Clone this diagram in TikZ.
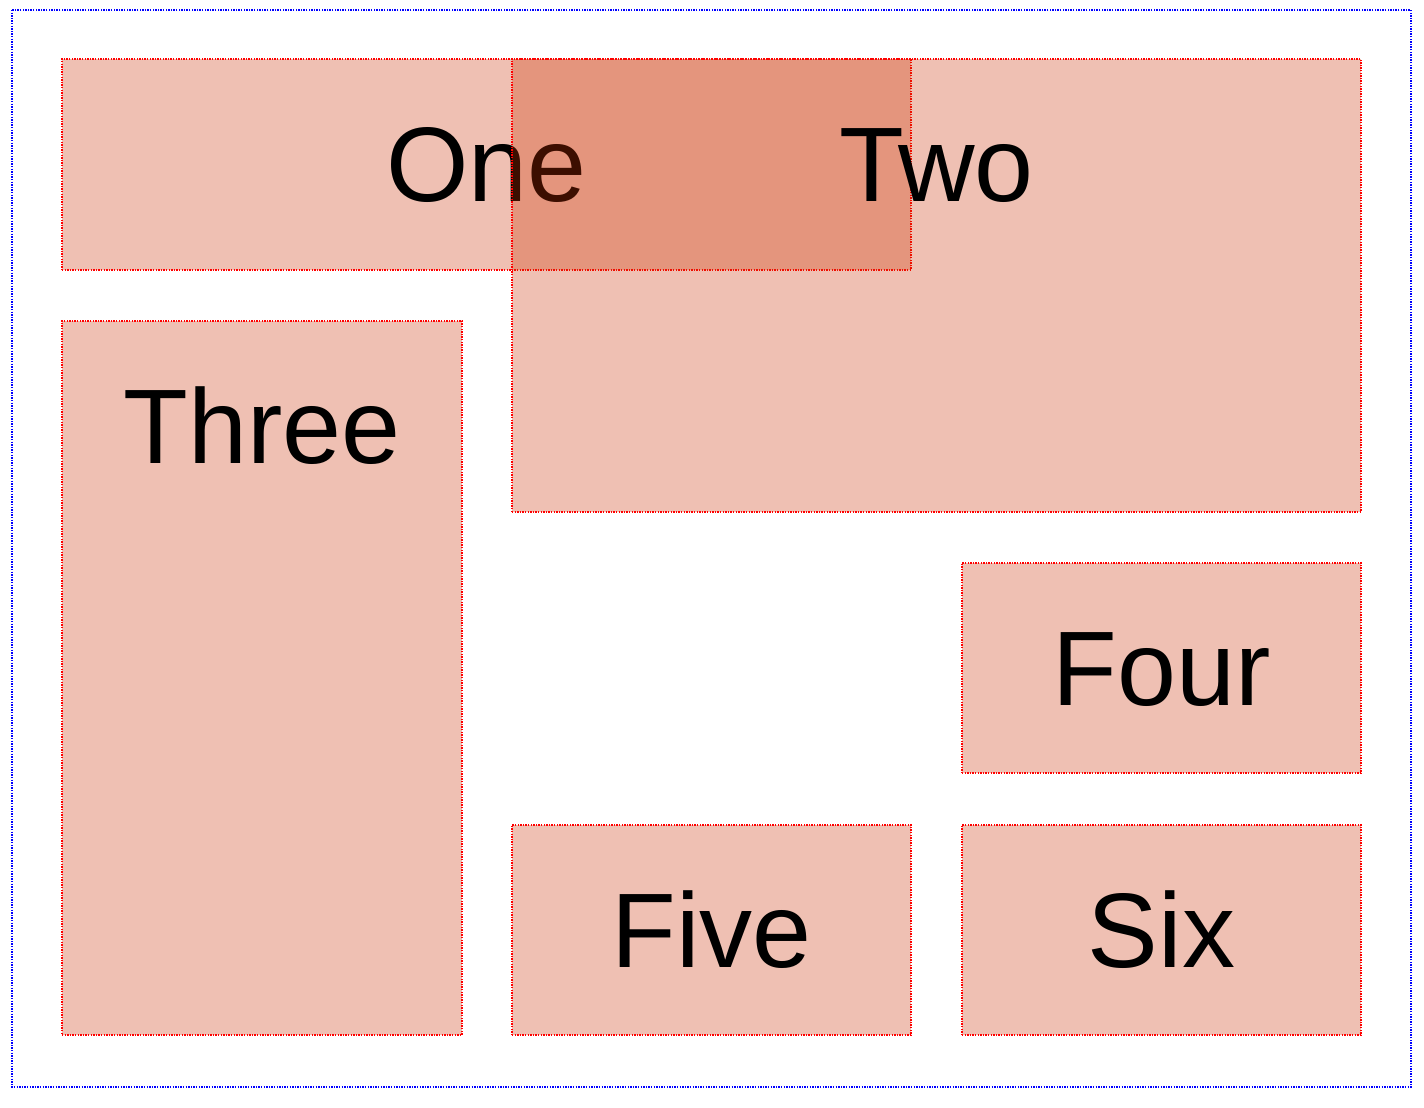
\documentclass[tikz,border=0pt]{standalone}
\usepackage{fontspec}
\setmainfont{Liberation Sans}
\usetikzlibrary{positioning}

\definecolor{cellred}{RGB}{202,48,2}

\begin{document}
\begin{tikzpicture}[x=0.5pt, y=-0.5pt,
    cell/.style={draw=red, fill=cellred, fill opacity=0.3, line width=0.75pt,
                 dash pattern=on 0.7pt off 0.6pt, inner sep=0pt, outer sep=0pt,
                 anchor=north west},
    celltext/.style={anchor=base, font=\fontsize{53}{60}\selectfont, inner sep=0pt}]
    \useasboundingbox (0,0) rectangle (1424,1108);
    % outer container
    \draw[blue, line width=0.75pt, dash pattern=on 0.7pt off 0.6pt] (12,10) rectangle (1411,1087);
    % grid items
    \node[cell, minimum width=424.5pt, minimum height=105.5pt] (one) at (62,59) {};
    \node[celltext] (oneText) at ([yshift=-71pt]one.north) {One};
    \node[cell, minimum width=424.5pt, minimum height=226.5pt] (two) at (512,59) {};
    \node[celltext] (twoText) at ([yshift=-71pt]two.north) {Two};
    \node[cell, minimum width=200pt, minimum height=357pt] (three) at (62,321) {};
    \node[celltext] (threeText) at ([yshift=-71pt]three.north) {Three};
    \node[cell, minimum width=199.5pt, minimum height=105pt] (four) at (962,563) {};
    \node[celltext] (fourText) at ([yshift=-71pt]four.north) {Four};
    \node[cell, minimum width=199.5pt, minimum height=105pt] (five) at (512,825) {};
    \node[celltext] (fiveText) at ([yshift=-71pt]five.north) {Five};
    \node[cell, minimum width=199.5pt, minimum height=105pt] (six) at (962,825) {};
    \node[celltext] (sixText) at ([yshift=-71pt]six.north) {Six};
\end{tikzpicture}
\end{document}
